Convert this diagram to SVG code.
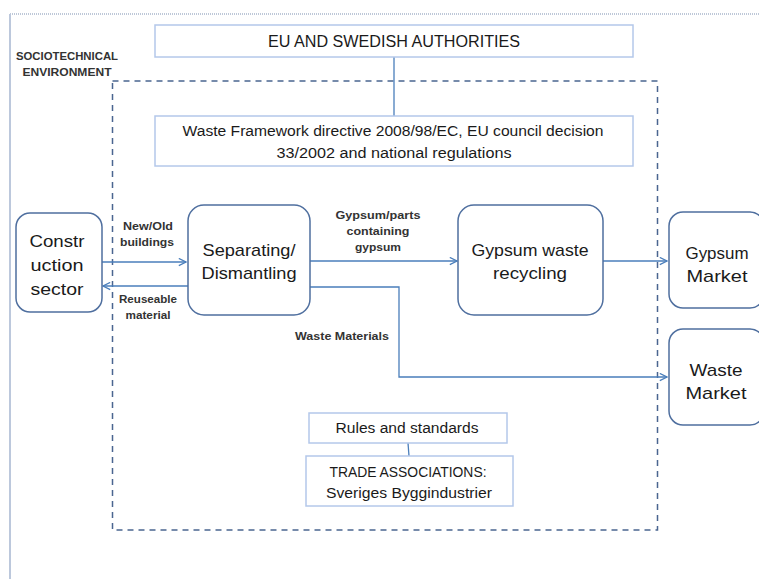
<svg xmlns="http://www.w3.org/2000/svg" width="759" height="579" viewBox="0 0 759 579">
  <defs>
    <marker id="arrow" viewBox="0 0 10 10" refX="9" refY="5" markerWidth="9" markerHeight="9" markerUnits="userSpaceOnUse" orient="auto">
      <path d="M1,1 L9,5 L1,9" fill="none" stroke="#4a7ebb" stroke-width="1.4"/>
    </marker>
  </defs>
  <style>
    text { font-family: "Liberation Sans", Arial, sans-serif; fill: #1a1a1a; text-anchor: middle; }
    .node { fill: #ffffff; stroke: #4f6f9f; stroke-width: 1.5; }
    .panel { fill: #ffffff; stroke: #b4c8ea; stroke-width: 1.5; }
    .big { font-size: 17px; }
    .mid { font-size: 14px; }
    .small { font-size: 10.5px; font-weight: bold; fill: #333333; }
    .conn { fill: none; stroke: #4a7ebb; stroke-width: 1.3; }
  </style>

  <rect width="759" height="579" fill="#ffffff"/>

  <!-- outer environment frame -->
  <g id="environment">
    <line x1="10" y1="14" x2="759" y2="14" stroke="#a9b6cc" stroke-width="1.5" stroke-dasharray="1 1"/>
    <line x1="10" y1="14" x2="10" y2="579" stroke="#bcc8dc" stroke-width="2"/>
    <text class="small" x="67" y="60" textLength="102" lengthAdjust="spacingAndGlyphs">SOCIOTECHNICAL</text>
    <text class="small" x="67" y="76" textLength="89" lengthAdjust="spacingAndGlyphs">ENVIRONMENT</text>
  </g>

  <!-- regime boundary -->
  <rect id="regime" x="112.5" y="81" width="545" height="449" fill="none" stroke="#4a6590" stroke-width="1.5" stroke-dasharray="6 5"/>

  <!-- connectors -->
  <g id="connectors">
    <line class="conn" x1="394" y1="57" x2="394" y2="116"/>
    <line class="conn" x1="408" y1="443" x2="409" y2="456"/>
    <line class="conn" x1="102" y1="262" x2="186" y2="262" marker-end="url(#arrow)"/>
    <line class="conn" x1="188" y1="286" x2="103" y2="286" marker-end="url(#arrow)"/>
    <line class="conn" x1="310" y1="261" x2="457" y2="261" marker-end="url(#arrow)"/>
    <line class="conn" x1="603" y1="261" x2="667" y2="261" marker-end="url(#arrow)"/>
    <polyline class="conn" points="310,287 399,287 399,377 667,377" marker-end="url(#arrow)"/>
  </g>

  <!-- connector labels -->
  <g id="labels">
    <text class="small" x="148" y="230" textLength="50" lengthAdjust="spacingAndGlyphs">New/Old</text>
    <text class="small" x="147" y="246" textLength="54" lengthAdjust="spacingAndGlyphs">buildings</text>
    <text class="small" x="148" y="303" textLength="58" lengthAdjust="spacingAndGlyphs">Reuseable</text>
    <text class="small" x="148" y="319" textLength="45" lengthAdjust="spacingAndGlyphs">material</text>
    <text class="small" x="378" y="219" textLength="85" lengthAdjust="spacingAndGlyphs">Gypsum/parts</text>
    <text class="small" x="378" y="235" textLength="63" lengthAdjust="spacingAndGlyphs">containing</text>
    <text class="small" x="378" y="251" textLength="46" lengthAdjust="spacingAndGlyphs">gypsum</text>
    <text class="small" x="342" y="340" textLength="94" lengthAdjust="spacingAndGlyphs">Waste Materials</text>
  </g>

  <g id="eu-authorities">
    <rect class="panel" x="155" y="25" width="478" height="32"/>
    <text x="394" y="47" font-size="16" textLength="252" lengthAdjust="spacingAndGlyphs">EU AND SWEDISH AUTHORITIES</text>
  </g>

  <g id="regulations">
    <rect class="panel" x="155" y="116" width="478" height="50"/>
    <text class="mid" x="393" y="136" textLength="421" lengthAdjust="spacingAndGlyphs">Waste Framework directive 2008/98/EC, EU council decision</text>
    <text class="mid" x="394" y="158" textLength="235" lengthAdjust="spacingAndGlyphs">33/2002 and national regulations</text>
  </g>

  <g id="construction-sector">
    <rect class="node" x="16" y="213" width="86" height="99" rx="14"/>
    <text class="big" x="57" y="247" textLength="55" lengthAdjust="spacingAndGlyphs">Constr</text>
    <text class="big" x="57" y="271" textLength="53" lengthAdjust="spacingAndGlyphs">uction</text>
    <text class="big" x="57" y="295" textLength="53" lengthAdjust="spacingAndGlyphs">sector</text>
  </g>

  <g id="separating">
    <rect class="node" x="188" y="205" width="122" height="110" rx="16"/>
    <text class="big" x="249" y="256" textLength="93" lengthAdjust="spacingAndGlyphs">Separating/</text>
    <text class="big" x="249" y="279" textLength="95" lengthAdjust="spacingAndGlyphs">Dismantling</text>
  </g>

  <g id="gypsum-recycling">
    <rect class="node" x="458" y="205" width="145" height="110" rx="16"/>
    <text class="big" x="530" y="256" textLength="117" lengthAdjust="spacingAndGlyphs">Gypsum waste</text>
    <text class="big" x="530" y="279" textLength="74" lengthAdjust="spacingAndGlyphs">recycling</text>
  </g>

  <g id="gypsum-market">
    <rect class="node" x="669" y="212" width="95" height="96" rx="14"/>
    <text class="big" x="717" y="259" textLength="63" lengthAdjust="spacingAndGlyphs">Gypsum</text>
    <text class="big" x="717" y="282" textLength="61" lengthAdjust="spacingAndGlyphs">Market</text>
  </g>

  <g id="waste-market">
    <rect class="node" x="669" y="329" width="95" height="96" rx="14"/>
    <text class="big" x="716" y="376" textLength="53" lengthAdjust="spacingAndGlyphs">Waste</text>
    <text class="big" x="716" y="399" textLength="61" lengthAdjust="spacingAndGlyphs">Market</text>
  </g>

  <g id="rules">
    <rect class="panel" x="309" y="413" width="198" height="30"/>
    <text class="mid" x="407" y="433" textLength="143" lengthAdjust="spacingAndGlyphs">Rules and standards</text>
  </g>

  <g id="trade-associations">
    <rect class="panel" x="306" y="456" width="207" height="50"/>
    <text class="mid" x="408" y="477" textLength="157" lengthAdjust="spacingAndGlyphs">TRADE ASSOCIATIONS:</text>
    <text class="mid" x="409" y="498" textLength="166" lengthAdjust="spacingAndGlyphs">Sveriges Byggindustrier</text>
  </g>
</svg>
